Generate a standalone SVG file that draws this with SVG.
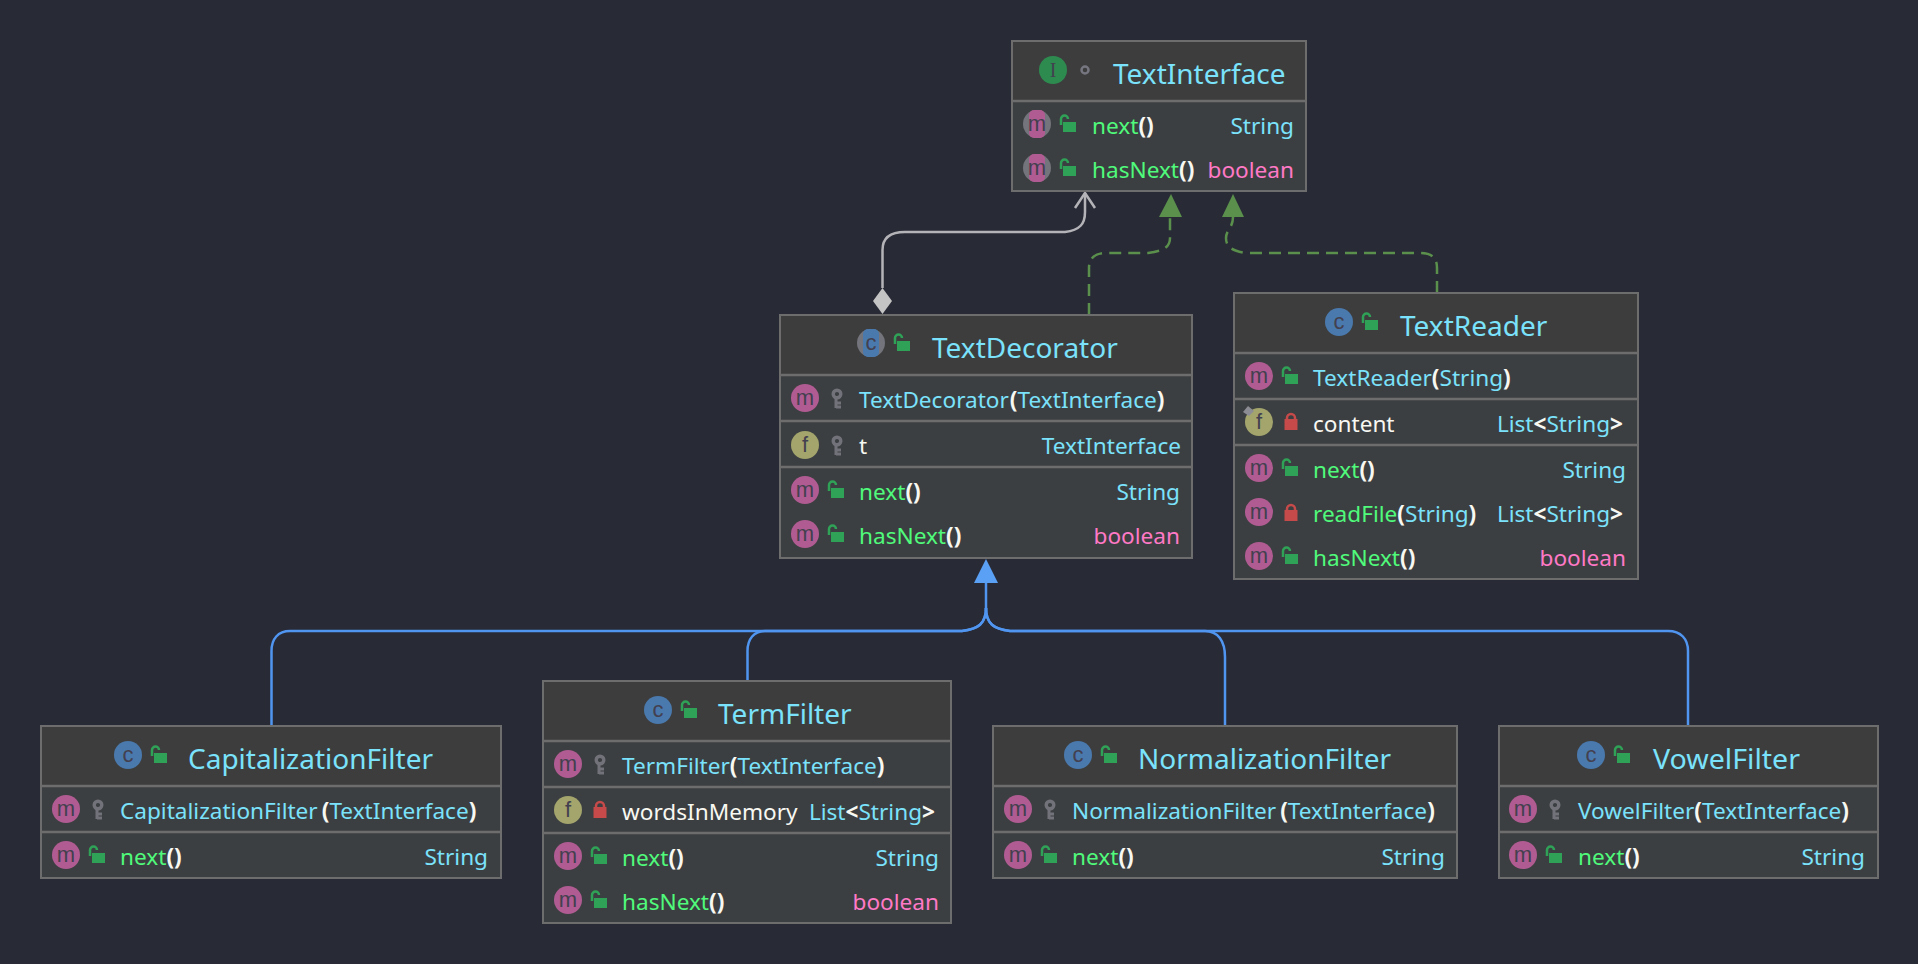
<svg xmlns="http://www.w3.org/2000/svg" width="1918" height="964" viewBox="0 0 1918 964">
<style>
text{font-family:"Noto Sans","Open Sans","Liberation Sans",sans-serif;font-size:22.6px}
.box{fill:#3c3f41;stroke:#6d6d6d;stroke-width:2}
.head{fill:#3d3d3d}
.div{stroke:#6d6d6d;stroke-width:2.5;fill:none}
.title{font-size:28px;fill:#7be2fb}
.c{fill:#7be2fb}
.g{fill:#50fa7b}
.w{fill:#f8f8f2}
.p{fill:#ff79c6}
.b{font-weight:700;fill:#f8f8f2}
.r{text-anchor:end}
.ic{font-family:"Liberation Sans",sans-serif;font-size:22px;text-anchor:middle;fill:#43404f}
.blue{stroke:#5095f0;stroke-width:2.5;fill:none}
.green{stroke:#5a8f4c;stroke-width:2.5;fill:none;stroke-dasharray:12 7}
.gray{stroke:#b4b4b8;stroke-width:2.5;fill:none}
</style>
<defs>
<g id="open"><path d="M-6 -1V-7a3.500 3.500 0 0 1 7 0" fill="none" stroke="#2fa257" stroke-width="2.500"/><rect x="-4" y="-4" width="13" height="10" fill="#2fa257"/></g>
<g id="lock"><path d="M-4 -2V-4a4 4 0 0 1 8 0V-2" fill="none" stroke="#c64a4a" stroke-width="2.500"/><rect x="-6.500" y="-3" width="13" height="11" fill="#c64a4a"/></g>
<g id="key"><circle cx="0" cy="-5" r="3.800" fill="none" stroke="#72737a" stroke-width="3.400"/><path d="M-1 -1V9M-1 4H4M-1 8H4" stroke="#72737a" stroke-width="3" fill="none"/></g>
<circle id="mc" r="14" fill="#b05c92"/>
<circle id="fc" r="14" fill="#a3a56c"/>
<circle id="cc" r="14" fill="#4a79ad"/>
<g id="mab"><circle r="14" fill="#73747c"/><rect x="-8" y="-14" width="16" height="28" rx="5" fill="#b05c92"/></g>
<g id="cab"><circle r="14" fill="#73747c"/><rect x="-8" y="-14" width="16" height="28" rx="5" fill="#4a79ad"/></g>
</defs>
<rect width="1918" height="964" fill="#282a36"/>

<g id="connectors">
<path class="blue" d="M986 582V608C986 624 978 629 962 631H290C278 631 271.500 639 271.500 651V726"/>
<path class="blue" d="M986 608C986 624 978 629 962 631H765C754 631 747.500 639 747.500 651V681"/>
<path class="blue" d="M986 608C986 624 994 629 1010 631H1205C1218 631 1225 641 1225 657V726"/>
<path class="blue" d="M986 608C986 624 994 629 1010 631H1668C1681 631 1688 639 1688 651V726"/>
<path d="M986 559L998 583H974Z" fill="#5aa0f5"/>
<path class="green" d="M1089 315V268C1089 258 1095 253 1106 253H1148C1164 251 1170 247 1170 238V217"/>
<path d="M1171 194L1182 217H1159Z" fill="#5a8f4c"/>
<path class="green" d="M1437 293V268C1437 258 1432 253 1420 253H1246C1232 251 1226 247 1226 238C1226 230 1233 228 1233 217"/>
<path d="M1233 194L1244 217H1222Z" fill="#5a8f4c"/>
<path class="gray" d="M882.500 288V250C882.500 238 890 232 905 232H1065C1080 230 1085 224 1085 212V193"/>
<path class="gray" d="M1075 208L1085 193L1095 208"/>
<path d="M882.500 288L892 301L882.500 314L873 301Z" fill="#c4c4c4"/>
</g>

<g id="TextInterface">
<rect class="box" x="1012" y="41" width="294" height="150"/>
<rect class="head" x="1013" y="42" width="292" height="59"/>
<path class="div" d="M1013 101H1305"/>
<circle cx="1053" cy="70" r="14" fill="#2e8b50"/><text class="ic" x="1053" y="77" style="font-family:'Liberation Serif',serif;font-size:20px">I</text>
<circle cx="1085" cy="70" r="3.500" fill="none" stroke="#767680" stroke-width="2.500"/>
<text class="title" x="1113" y="84">TextInterface</text>
<use href="#mab" x="1037" y="124"/><text class="ic" x="1037" y="131">m</text><use href="#open" x="1067" y="126"/>
<text x="1092" y="134"><tspan class="g">next</tspan><tspan class="b">()</tspan></text><text class="c r" x="1294" y="134">String</text>
<use href="#mab" x="1037" y="168"/><text class="ic" x="1037" y="175">m</text><use href="#open" x="1067" y="170"/>
<text x="1092" y="178"><tspan class="g">hasNext</tspan><tspan class="b">()</tspan></text><text class="p r" x="1294" y="178">boolean</text>
</g>

<g id="TextDecorator">
<rect class="box" x="780" y="315" width="412" height="243"/>
<rect class="head" x="781" y="316" width="410" height="59"/>
<path class="div" d="M781 375H1191M781 421H1191M781 467H1191"/>
<use href="#cab" x="871" y="343"/><text class="ic" x="871" y="350">c</text><use href="#open" x="901" y="345"/>
<text class="title" x="932" y="358">TextDecorator</text>
<use href="#mc" x="805" y="398"/><text class="ic" x="805" y="405">m</text><use href="#key" x="837" y="399"/>
<text x="859" y="408"><tspan class="c">TextDecorator</tspan><tspan class="b" dx="1">(</tspan><tspan class="c">TextInterface</tspan><tspan class="b">)</tspan></text>
<use href="#fc" x="805" y="445"/><text class="ic" x="805" y="452">f</text><use href="#key" x="837" y="446"/>
<text class="w" x="859" y="454">t</text><text class="c r" x="1181" y="454">TextInterface</text>
<use href="#mc" x="805" y="490"/><text class="ic" x="805" y="497">m</text><use href="#open" x="835" y="492"/>
<text x="859" y="500"><tspan class="g">next</tspan><tspan class="b">()</tspan></text><text class="c r" x="1180" y="500">String</text>
<use href="#mc" x="805" y="534"/><text class="ic" x="805" y="541">m</text><use href="#open" x="835" y="536"/>
<text x="859" y="544"><tspan class="g">hasNext</tspan><tspan class="b">()</tspan></text><text class="p r" x="1180" y="544">boolean</text>
</g>

<g id="TextReader">
<rect class="box" x="1234" y="293" width="404" height="286"/>
<rect class="head" x="1235" y="294" width="402" height="59"/>
<path class="div" d="M1235 353H1637M1235 399H1637M1235 445H1637"/>
<use href="#cc" x="1339" y="322"/><text class="ic" x="1339" y="329">c</text><use href="#open" x="1369" y="324"/>
<text class="title" x="1400" y="336">TextReader</text>
<use href="#mc" x="1259" y="376"/><text class="ic" x="1259" y="383">m</text><use href="#open" x="1289" y="378"/>
<text x="1313" y="386"><tspan class="c">TextReader</tspan><tspan class="b">(</tspan><tspan class="c">String</tspan><tspan class="b">)</tspan></text>
<use href="#fc" x="1259" y="422"/><text class="ic" x="1259" y="429">f</text><path d="M1243 412L1248 406L1254 411L1249 416Z" fill="#8c8c94"/><use href="#lock" x="1291" y="422"/>
<text class="w" x="1313" y="432">content</text><text class="r" x="1623" y="432"><tspan class="c">List</tspan><tspan class="b">&lt;</tspan><tspan class="c">String</tspan><tspan class="b">&gt;</tspan></text>
<use href="#mc" x="1259" y="468"/><text class="ic" x="1259" y="475">m</text><use href="#open" x="1289" y="470"/>
<text x="1313" y="478"><tspan class="g">next</tspan><tspan class="b">()</tspan></text><text class="c r" x="1626" y="478">String</text>
<use href="#mc" x="1259" y="512"/><text class="ic" x="1259" y="519">m</text><use href="#lock" x="1291" y="513"/>
<text x="1313" y="522"><tspan class="g">readFile</tspan><tspan class="b">(</tspan><tspan class="c">String</tspan><tspan class="b">)</tspan></text><text class="r" x="1623" y="522"><tspan class="c">List</tspan><tspan class="b">&lt;</tspan><tspan class="c">String</tspan><tspan class="b">&gt;</tspan></text>
<use href="#mc" x="1259" y="556"/><text class="ic" x="1259" y="563">m</text><use href="#open" x="1289" y="558"/>
<text x="1313" y="566"><tspan class="g">hasNext</tspan><tspan class="b">()</tspan></text><text class="p r" x="1626" y="566">boolean</text>
</g>

<g id="CapitalizationFilter">
<rect class="box" x="41" y="726" width="460" height="152"/>
<rect class="head" x="42" y="727" width="458" height="59"/>
<path class="div" d="M42 786H500M42 832H500"/>
<use href="#cc" x="128" y="755"/><text class="ic" x="128" y="762">c</text><use href="#open" x="158" y="757"/>
<text class="title" x="188" y="769">CapitalizationFilter</text>
<use href="#mc" x="66" y="809"/><text class="ic" x="66" y="816">m</text><use href="#key" x="98" y="810"/>
<text x="120" y="819"><tspan class="c">CapitalizationFilter</tspan><tspan class="b" dx="4">(</tspan><tspan class="c">TextInterface</tspan><tspan class="b">)</tspan></text>
<use href="#mc" x="66" y="855"/><text class="ic" x="66" y="862">m</text><use href="#open" x="96" y="857"/>
<text x="120" y="865"><tspan class="g">next</tspan><tspan class="b">()</tspan></text><text class="c r" x="488" y="865">String</text>
</g>

<g id="TermFilter">
<rect class="box" x="543" y="681" width="408" height="242"/>
<rect class="head" x="544" y="682" width="406" height="59"/>
<path class="div" d="M544 741H950M544 787H950M544 833H950"/>
<use href="#cc" x="658" y="710"/><text class="ic" x="658" y="717">c</text><use href="#open" x="688" y="712"/>
<text class="title" x="718" y="724">TermFilter</text>
<use href="#mc" x="568" y="764"/><text class="ic" x="568" y="771">m</text><use href="#key" x="600" y="765"/>
<text x="622" y="774"><tspan class="c">TermFilter</tspan><tspan class="b">(</tspan><tspan class="c">TextInterface</tspan><tspan class="b">)</tspan></text>
<use href="#fc" x="568" y="810"/><text class="ic" x="568" y="817">f</text><use href="#lock" x="600" y="810"/>
<text class="w" x="622" y="820">wordsInMemory</text><text class="r" x="935" y="820"><tspan class="c">List</tspan><tspan class="b">&lt;</tspan><tspan class="c">String</tspan><tspan class="b">&gt;</tspan></text>
<use href="#mc" x="568" y="856"/><text class="ic" x="568" y="863">m</text><use href="#open" x="598" y="858"/>
<text x="622" y="866"><tspan class="g">next</tspan><tspan class="b">()</tspan></text><text class="c r" x="939" y="866">String</text>
<use href="#mc" x="568" y="900"/><text class="ic" x="568" y="907">m</text><use href="#open" x="598" y="902"/>
<text x="622" y="910"><tspan class="g">hasNext</tspan><tspan class="b">()</tspan></text><text class="p r" x="939" y="910">boolean</text>
</g>

<g id="NormalizationFilter">
<rect class="box" x="993" y="726" width="464" height="152"/>
<rect class="head" x="994" y="727" width="462" height="59"/>
<path class="div" d="M994 786H1456M994 832H1456"/>
<use href="#cc" x="1078" y="755"/><text class="ic" x="1078" y="762">c</text><use href="#open" x="1108" y="757"/>
<text class="title" x="1138" y="769">NormalizationFilter</text>
<use href="#mc" x="1018" y="809"/><text class="ic" x="1018" y="816">m</text><use href="#key" x="1050" y="810"/>
<text x="1072" y="819"><tspan class="c">NormalizationFilter</tspan><tspan class="b" dx="4">(</tspan><tspan class="c">TextInterface</tspan><tspan class="b">)</tspan></text>
<use href="#mc" x="1018" y="855"/><text class="ic" x="1018" y="862">m</text><use href="#open" x="1048" y="857"/>
<text x="1072" y="865"><tspan class="g">next</tspan><tspan class="b">()</tspan></text><text class="c r" x="1445" y="865">String</text>
</g>

<g id="VowelFilter">
<rect class="box" x="1499" y="726" width="379" height="152"/>
<rect class="head" x="1500" y="727" width="377" height="59"/>
<path class="div" d="M1500 786H1877M1500 832H1877"/>
<use href="#cc" x="1591" y="755"/><text class="ic" x="1591" y="762">c</text><use href="#open" x="1621" y="757"/>
<text class="title" x="1653" y="769" textLength="147" lengthAdjust="spacingAndGlyphs">VowelFilter</text>
<use href="#mc" x="1523" y="809"/><text class="ic" x="1523" y="816">m</text><use href="#key" x="1555" y="810"/>
<text x="1578" y="819"><tspan class="c">VowelFilter</tspan><tspan class="b">(</tspan><tspan class="c">TextInterface</tspan><tspan class="b">)</tspan></text>
<use href="#mc" x="1523" y="855"/><text class="ic" x="1523" y="862">m</text><use href="#open" x="1553" y="857"/>
<text x="1578" y="865"><tspan class="g">next</tspan><tspan class="b">()</tspan></text><text class="c r" x="1865" y="865">String</text>
</g>
</svg>
